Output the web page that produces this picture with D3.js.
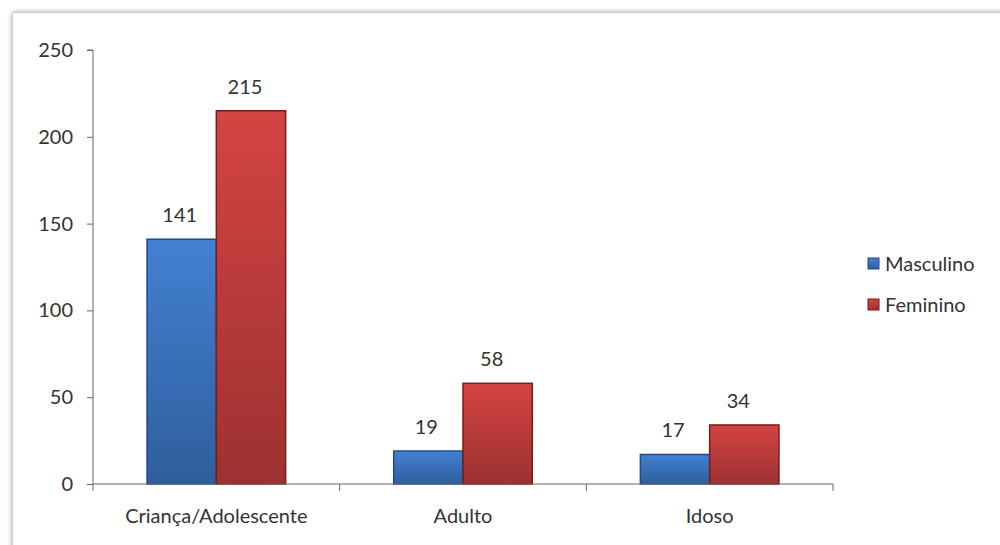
<!DOCTYPE html>
<html>
<head>
<meta charset="utf-8">
<script src="https://cdn.jsdelivr.net/npm/d3@7"></script>
<style>
  body { margin: 0; background: #fff; }
  text { font-family: Lato, "Open Sans", sans-serif; fill: #333; }
</style>
</head>
<body>
<div class="canvas"></div>
<script>
const categories = ['Criança/Adolescente', 'Adulto', 'Idoso'];
const seriesNames = ['Masculino', 'Feminino'];
const masculino = [141, 19, 17];
const feminino = [215, 58, 34];
const yTicks = [0, 50, 100, 150, 200, 250];

const width = 1000, height = 545;
const margin = { left: 93, right: 167, top: 50, bottom: 61 };

const svg = d3.select('.canvas').append('svg')
    .attr('width', width)
    .attr('height', height);

const defs = svg.append('defs');

// soft shadow for the chart frame
const shadow = defs.append('filter').attr('id', 'shadow')
    .attr('x', '-5%').attr('y', '-5%').attr('width', '110%').attr('height', '110%');
shadow.append('feGaussianBlur').attr('in', 'SourceAlpha').attr('stdDeviation', 2.5);
shadow.append('feOffset').attr('dx', -1).attr('dy', -1).attr('result', 'b');
shadow.append('feComponentTransfer').append('feFuncA').attr('type', 'linear').attr('slope', 0.35);
const merge = shadow.append('feMerge');
merge.append('feMergeNode');
merge.append('feMergeNode').attr('in', 'SourceGraphic');

svg.append('rect')
    .attr('x', 13).attr('y', 13)
    .attr('width', width + 20).attr('height', height + 20)
    .attr('fill', '#fff')
    .attr('filter', 'url(#shadow)');

const colors = {
    Masculino: { top: '#4281d2', bottom: '#2f5e9c', stroke: '#1f4a8a' },
    Feminino: { top: '#d44443', bottom: '#9d3131', stroke: '#7a1a1a' }
};

Object.keys(colors).forEach(k => {
    const g = defs.append('linearGradient').attr('id', 'grad-' + k)
        .attr('x1', 0).attr('y1', 0).attr('x2', 0).attr('y2', 1);
    g.append('stop').attr('offset', '0%').attr('stop-color', colors[k].top);
    g.append('stop').attr('offset', '100%').attr('stop-color', colors[k].bottom);
});

const x = d3.scaleBand()
    .domain(categories)
    .range([margin.left, width - margin.right]);

const x1 = d3.scaleBand()
    .domain(seriesNames)
    .range([0, x.bandwidth()])
    .paddingInner(0)
    .paddingOuter(0.78);

const y = d3.scaleLinear()
    .domain([0, 250])
    .range([height - margin.bottom, margin.top]);

// y axis
const yAxis = svg.append('g')
    .attr('transform', `translate(${margin.left},0)`)
    .call(d3.axisLeft(y).tickValues(yTicks).tickSize(6).tickPadding(14));
yAxis.select('.domain').attr('stroke', '#666').attr('d', `M-6,${y(250)}H0V${y(0)}`);
yAxis.selectAll('.tick line').attr('stroke', '#666');
yAxis.selectAll('.tick text').attr('font-size', 20).style('fill', '#333');

const data = categories.map((c, i) => ({ cat: c, values: [
    { name: 'Masculino', value: masculino[i] },
    { name: 'Feminino', value: feminino[i] }
]}));

const groups = svg.selectAll('.group').data(data).enter().append('g')
    .attr('transform', d => `translate(${x(d.cat)},0)`);

groups.selectAll('rect').data(d => d.values).enter().append('rect')
    .attr('x', d => x1(d.name))
    .attr('y', d => y(d.value))
    .attr('width', x1.bandwidth())
    .attr('height', d => y(0) - y(d.value))
    .attr('fill', d => `url(#grad-${d.name})`)
    .attr('stroke', d => colors[d.name].stroke)
    .attr('stroke-width', 1.5);

groups.selectAll('.label').data(d => d.values).enter().append('text')
    .attr('x', d => x1(d.name) + x1.bandwidth() / 2 - (d.name === 'Masculino' ? 2 : 6))
    .attr('y', d => y(d.value) - 17)
    .attr('text-anchor', 'middle')
    .attr('font-size', 20)
    .text(d => d.value);

// x axis
const xAxis = svg.append('g')
    .attr('transform', `translate(0,${y(0)})`)
    .call(d3.axisBottom(x).tickSize(0).tickPadding(25));
xAxis.select('.domain').attr('stroke', '#666')
    .attr('d', `M${margin.left},0H${width - margin.right}`);
xAxis.selectAll('.tick text').attr('font-size', 20).style('fill', '#333');

const boundaries = categories.map(c => x(c)).concat([x.range()[1]]);
xAxis.selectAll('.bound').data(boundaries).enter().append('line')
    .attr('x1', d => d).attr('x2', d => d)
    .attr('y1', 0).attr('y2', 7)
    .attr('stroke', '#666');

// legend
const legend = svg.append('g').attr('transform', 'translate(868,258)');
seriesNames.forEach((n, i) => {
    const g = legend.append('g').attr('transform', `translate(0,${i * 41})`);
    g.append('rect')
        .attr('width', 11).attr('height', 11)
        .attr('fill', `url(#grad-${n})`)
        .attr('stroke', colors[n].stroke);
    g.append('text')
        .attr('x', 17).attr('y', 13)
        .attr('font-size', 20)
        .text(n);
});
</script>
</body>
</html>
